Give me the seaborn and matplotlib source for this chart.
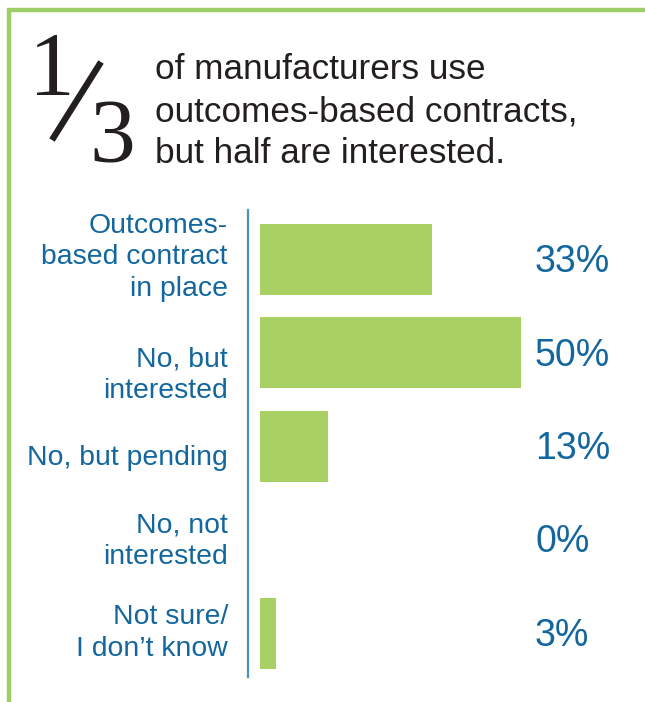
import numpy as np
import pandas as pd
import matplotlib
matplotlib.use('Agg')
import matplotlib.pyplot as plt
from matplotlib.lines import Line2D
import seaborn as sns

# chart data
categories = ['Outcomes-\nbased contract\nin place', 'No, but\ninterested', 'No, but pending',
              'No, not\ninterested', 'Not sure/\nI don\u2019t know']
shares = [33, 50, 13, 0, 3]
headline = ['of manufacturers use', 'outcomes-based contracts,', 'but half are interested.']

# where the top of each answer label sits, relative to its bar centre (in bar units)
label_shift = [-0.50, -0.07, -0.016, -0.29, -0.31]

# colours
border_green = '#9dcf66'
bar_green = '#a8d063'
label_blue = '#13679e'
axis_blue = '#4f8fbf'
title_dark = '#231f20'

sns.set_theme(style='white')
plt.rcParams['font.family'] = ['Liberation Sans', 'DejaVu Sans']

df = pd.DataFrame({'answer': categories, 'share': shares})

fig = plt.figure(figsize=(6.45, 7.02), dpi=100)
W, H = 645, 702

def fx(px):
    return px / W

def fy(py):
    return 1 - py / H

# bar axes
ax = fig.add_axes([fx(248), fy(677), fx(645) - fx(248), fy(210) - fy(677)])
sns.barplot(data=df, x='share', y='answer', orient='h', color=bar_green,
            saturation=1, width=0.76, linewidth=0, ax=ax)
ax.set_xlim(-2.3, 73.7)
ax.set_ylim(4.47, -0.53)
ax.set_xlabel('')
ax.set_ylabel('')
ax.set_xticks([])
for side in ['top', 'right', 'bottom']:
    ax.spines[side].set_visible(False)
ax.spines['left'].set_color(axis_blue)
ax.spines['left'].set_linewidth(1.6)
ax.tick_params(axis='y', length=0, labelleft=False)

# answer labels, right aligned left of the axis line
for i, (cat, shift) in enumerate(zip(categories, label_shift)):
    ax.text(-0.0504, i + shift, cat, transform=ax.get_yaxis_transform(),
            ha='right', va='top', multialignment='right', linespacing=1.27,
            fontsize=20.4, color=label_blue)

# percentage labels to the right
for i, v in enumerate(shares):
    ax.text(0.723, i + 0.135, f'{v}%', transform=ax.get_yaxis_transform(),
            ha='left', va='baseline', fontsize=27, color=label_blue)

# green frame on the left and top
fig.add_artist(Line2D([fx(9), fx(9)], [fy(8), 0], color=border_green, lw=3.2,
                      solid_capstyle='butt'))
fig.add_artist(Line2D([fx(7), 1], [fy(10), fy(10)], color=border_green, lw=3.2,
                      solid_capstyle='butt'))

# big 1/3 fraction
fig.text(fx(29), fy(95), '1', fontsize=66, family='Liberation Serif',
         color=title_dark, va='baseline', ha='left')
fig.text(fx(89), fy(162), '3', fontsize=66, family='Liberation Serif',
         color=title_dark, va='baseline', ha='left')
fig.add_artist(Line2D([fx(52), fx(101)], [fy(140), fy(62)], color=title_dark, lw=4.6,
                      solid_capstyle='butt'))

# headline text
for i, line in enumerate(headline):
    fig.text(fx(155), fy(79 + 42 * i), line, fontsize=25.3, color=title_dark,
             va='baseline', ha='left')

fig.savefig('out.png', dpi=100, facecolor='white')
